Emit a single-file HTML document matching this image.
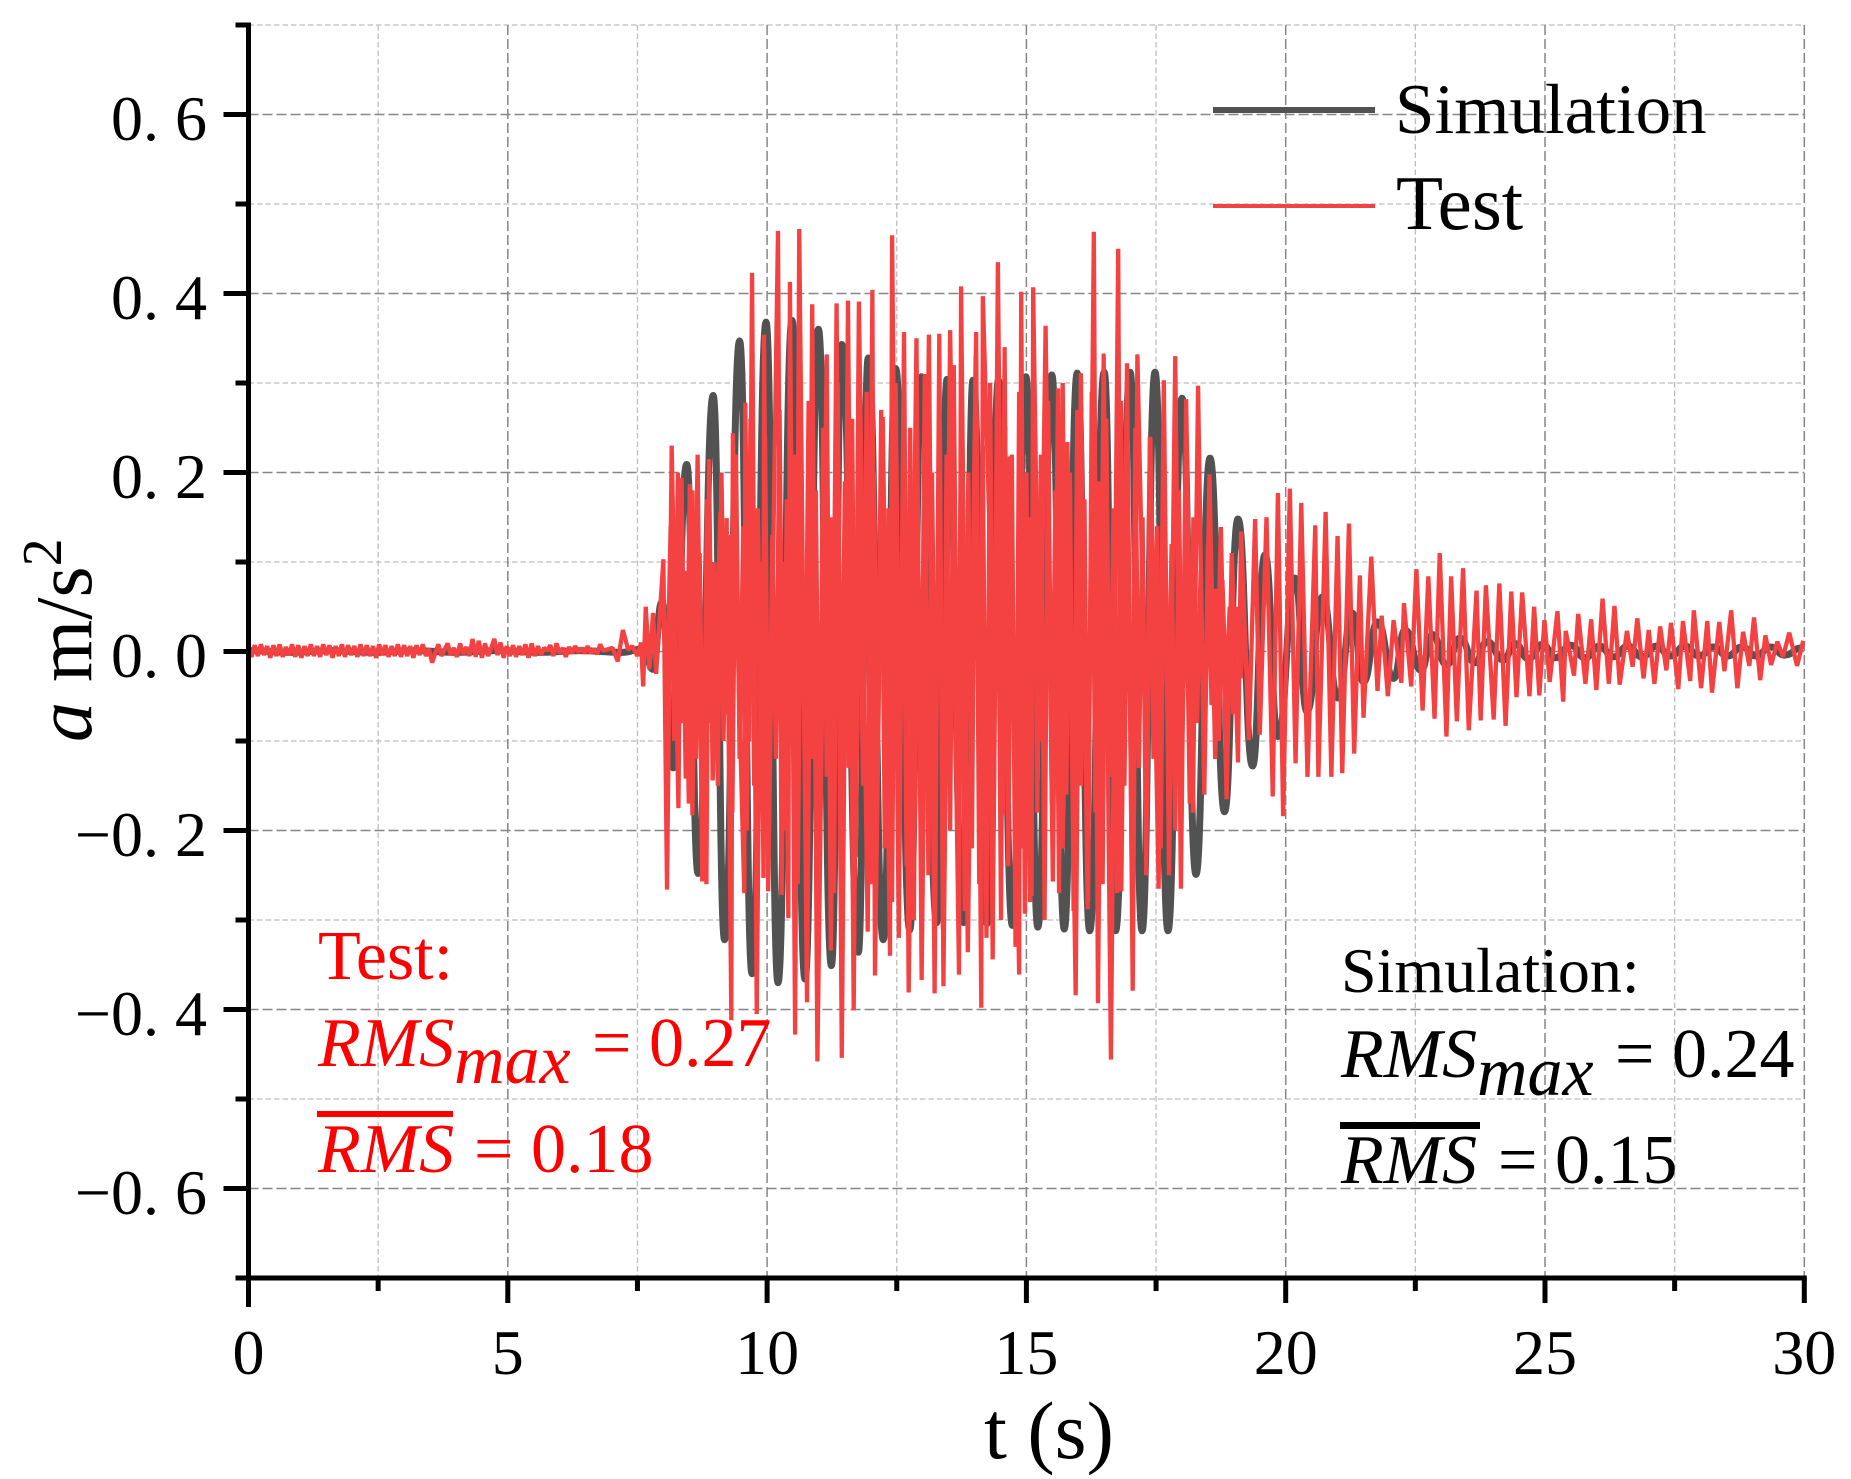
<!DOCTYPE html>
<html lang="en">
<head>
<meta charset="utf-8">
<title>Acceleration time history: Simulation vs Test</title>
<style>
html,body{margin:0;padding:0;background:#fff;width:1851px;height:1479px;overflow:hidden}
svg{display:block}
text{font-family:"Liberation Serif","DejaVu Serif",serif;fill:#000}
</style>
</head>
<body>
<svg id="chart" xmlns="http://www.w3.org/2000/svg" width="1851" height="1479" viewBox="0 0 1851 1479">
  <g id="grid"></g>
  <path id="sim-line" fill="none" stroke="#525252" stroke-width="7" stroke-linejoin="round"></path>
  <path id="test-fine-line" fill="none" stroke="#f44242" stroke-width="4.3" stroke-linejoin="bevel"></path>
  <path id="test-line" fill="none" stroke="#f44242" stroke-width="4.3" stroke-linejoin="bevel"></path>
  <g id="axes"></g>

  <g>
    <rect x="1213" y="107" width="162" height="6" fill="#525252"></rect>
    <text x="1395" y="133" font-size="71">Simulation</text>
    <rect x="1213" y="204" width="162" height="4" fill="#f44242"></rect>
    <text x="1396" y="229" font-size="77">Test</text>
  </g>

  <g font-size="70" style="fill:#f00">
    <text x="318" y="979" style="fill:#f00">Test:</text>
    <text y="1066" style="fill:#f00"><tspan x="318" font-style="italic">RMS</tspan><tspan x="454" y="1083" font-style="italic">max</tspan><tspan x="592" y="1066">= 0.27</tspan></text>
    <rect x="317" y="1111" width="136" height="6" fill="#f00"></rect>
    <text y="1172" style="fill:#f00"><tspan x="318" font-style="italic">RMS</tspan><tspan x="474">= 0.18</tspan></text>
  </g>

  <g font-size="70">
    <text x="1341" y="992" font-size="64">Simulation:</text>
    <text y="1077"><tspan x="1341" font-style="italic">RMS</tspan><tspan x="1477" y="1095" font-style="italic">max</tspan><tspan x="1615" y="1077">= 0.24</tspan></text>
    <rect x="1340" y="1122" width="140" height="7" fill="#000"></rect>
    <text y="1183"><tspan x="1341" font-style="italic">RMS</tspan><tspan x="1498">= 0.15</tspan></text>
  </g>

  <text x="1049" y="1458" font-size="82" text-anchor="middle">t (s)</text>
  <text transform="translate(91 742) rotate(-90)" font-size="80"><tspan font-style="italic">a</tspan><tspan> m/s</tspan><tspan font-size="56" dy="-30">2</tspan></text>
</svg>

<script>
// ---- axis data ----
const xMajorTicks = [0, 5, 10, 15, 20, 25, 30];
const xMinorTicks = [2.5, 7.5, 12.5, 17.5, 22.5, 27.5];
const xTickLabels = ["0", "5", "10", "15", "20", "25", "30"];
const yMajorTicks = [0.6, 0.4, 0.2, 0, -0.2, -0.4, -0.6];
const yMinorTicks = [0.7, 0.5, 0.3, 0.1, -0.1, -0.3, -0.5, -0.7];
const yTickLabels = ["0. 6", "0. 4", "0. 2", "0. 0", "\u22120. 2", "\u22120. 4", "\u22120. 6"];

// ---- simulation series (time in s, acceleration in m/s^2) ----
const simTime = [
  0,0.8,1.6,2.4,3.2,4,4.8,5.6,6.4,7.2,
  7.62,7.8,7.97,8.19,8.45,8.67,8.96,9.18,9.47,9.71,
  9.98,10.21,10.48,10.73,10.99,11.24,11.44,11.76,11.95,12.24,
  12.48,12.75,12.98,13.27,13.47,13.79,13.97,14.24,14.46,14.73,
  14.99,15.22,15.49,15.73,15.98,16.22,16.5,16.72,17.0,17.23,
  17.48,17.73,18.0,18.27,18.54,18.82,19.08,19.36,19.6,19.85,
  20.18,20.41,20.71,21.01,21.28,21.5,21.77,22.08,22.3,22.61,
  22.83,23.1,23.36,23.65,23.88,24.2,24.42,24.68,24.95,25.2,
  25.5,25.77,26.05,26.32,26.6,26.87,27.15,27.42,27.7,27.97,
  28.25,28.52,28.8,29.07,29.35,29.62,29.95
];
const simAccel = [
  0.001,-0.001,0.001,-0.001,0.001,-0.001,0.001,-0.001,0.001,-0.001,
  0.003,-0.02,0.055,-0.13,0.209,-0.248,0.286,-0.322,0.347,-0.36,
  0.368,-0.37,0.37,-0.366,0.36,-0.351,0.343,-0.336,0.328,-0.322,
  0.316,-0.311,0.307,-0.303,0.304,-0.303,0.303,-0.304,0.303,-0.306,
  0.307,-0.308,0.309,-0.31,0.311,-0.312,0.312,-0.312,0.312,-0.312,
  0.312,-0.312,0.283,-0.249,0.216,-0.179,0.148,-0.128,0.108,-0.095,
  0.082,-0.067,0.061,-0.052,0.043,-0.034,0.033,-0.03,0.024,-0.021,
  0.019,-0.015,0.015,-0.0125,0.011,-0.0095,0.009,-0.008,0.008,-0.007,
  0.007,-0.007,0.006,-0.006,0.006,-0.006,0.006,-0.005,0.006,-0.005,
  0.005,-0.005,0.005,-0.005,0.005,-0.004,0.004
];

// ---- test series: quiet lead-in sampled every earlyStep seconds ----
const earlyStep = 0.06;
const earlyTestAccel = [
  0.003,-0.006,0.007,-0.005,0.008,-0.004,0.006,-0.007,0.007,-0.005,
  0.008,-0.006,0.005,-0.004,0.008,-0.006,0.007,-0.007,0.006,-0.005,
  0.008,-0.005,0.006,-0.006,0.008,-0.004,0.007,-0.007,0.006,-0.005,
  0.008,-0.006,0.007,-0.004,0.006,-0.006,0.008,-0.005,0.007,-0.005,
  0.006,-0.007,0.008,-0.004,0.007,-0.006,0.006,-0.005,0.008,-0.006,
  0.007,-0.005,0.006,-0.007,0.007,-0.004,0.008,-0.005,0.003,-0.0125,
  -0.002,0.008,-0.005,0.002,0.009,-0.004,0.004,-0.006,0.009,-0.003,
  0.005,-0.005,0.014,-0.006,0.012,-0.007,0.009,-0.005,0.004,0.014,
  -0.004,0.01,-0.007,0.006,-0.005,0.007,-0.006,0.006,-0.004,0.008,
  -0.007,0.009,-0.005,0.006,-0.004,0.004,0.001,0.007,-0.005,0.009,
  -0.002,0.004,-0.006,0.005,-0.002,0.006,-0.001,0.004,-0.002,0.006,
  -0.002,0.003,-0.003,0.008,0.001
];

// ---- test series: main record, peak by peak ----
const testTime = [
  7.02,7.12,7.22,7.32,7.4,7.5,7.57,7.61,7.66,7.73,
  7.8,7.86,8.0,8.07,8.16,8.29,8.35,8.43,8.51,8.56,
  8.66,8.75,8.79,8.83,8.88,8.95,9.1,9.16,9.22,9.31,
  9.34,9.46,9.56,9.58,9.65,9.71,9.8,9.88,9.93,9.94,
  10.02,10.21,10.28,10.34,10.41,10.44,10.54,10.62,10.77,10.87,
  10.97,11.15,11.23,11.34,11.44,11.56,11.67,11.77,11.94,12.03,
  12.08,12.23,12.37,12.41,12.54,12.64,12.73,12.88,12.98,13.12,
  13.23,13.32,13.4,13.53,13.7,13.74,13.87,14.03,14.13,14.16,
  14.28,14.35,14.45,14.55,14.59,14.64,14.68,14.86,14.9,14.97,
  15.04,15.1,15.13,15.26,15.37,15.51,15.61,15.7,15.79,15.95,
  16.05,16.18,16.3,16.38,16.49,16.63,16.77,16.83,16.94,17.05,
  17.14,17.33,17.39,17.55,17.65,17.75,17.87,17.98,18.08,18.21,
  18.31,18.43,18.53,18.64,18.75,18.86,18.96,19.08,19.14,19.29,
  19.41,19.5,19.63,19.75,19.85,19.95,20.08,20.19,20.3,20.42,
  20.57,20.63,20.77,20.88,21.0,21.09,21.22,21.32,21.43,21.5,
  21.65,21.77,21.85,21.97,22.08,22.23,22.28,22.42,22.52,22.64,
  22.75,22.87,22.97,23.1,23.19,23.3,23.42,23.53,23.68,23.76,
  23.86,24.01,24.12,24.24,24.35,24.45,24.56,24.7,24.79,24.89,
  24.99,25.09,25.24,25.35,25.4,25.56,25.64,25.78,25.89,25.99,
  26.11,26.23,26.34,26.44,26.58,26.69,26.78,26.9,27.0,27.11,
  27.22,27.34,27.43,27.57,27.66,27.8,27.87,28.01,28.13,28.22,
  28.36,28.46,28.59,28.71,28.82,28.94,29.03,29.15,29.25,29.36,
  29.48,29.59,29.71,29.86,29.98
];
const testAccel = [
  0.004,-0.011,0.024,0.002,0.006,-0.005,0.01,-0.039,0.05,-0.02,
  0.043,-0.025,0.103,-0.266,0.23,-0.175,0.194,-0.142,0.187,-0.183,
  0.22,-0.257,-0.05,-0.26,0.215,-0.144,0.156,-0.1,0.149,-0.412,
  0.244,-0.05,-0.27,0.278,-0.1,0.423,-0.405,0.1,-0.253,0.354,
  -0.268,0.47,-0.272,0.1,-0.298,0.413,-0.428,0.472,-0.392,0.388,
  -0.458,0.332,-0.334,0.389,-0.454,0.392,-0.401,0.391,-0.313,0.404,
  -0.362,0.262,-0.34,0.465,-0.32,0.357,-0.381,0.35,-0.367,0.354,
  -0.382,0.355,-0.374,0.359,-0.361,0.408,-0.336,0.357,-0.398,0.397,
  0.154,-0.344,0.435,-0.183,0.252,-0.05,0.218,-0.361,0.402,-0.293,
  0.15,-0.273,0.407,-0.1,0.364,-0.257,0.294,-0.22,0.234,-0.384,
  0.311,-0.288,0.469,-0.393,0.333,-0.456,0.45,-0.268,0.322,-0.379,
  0.332,-0.178,0.239,-0.265,0.303,-0.25,0.33,-0.265,0.282,-0.18,
  0.297,-0.16,0.198,-0.12,0.139,-0.165,0.11,-0.124,0.134,-0.099,
  0.148,-0.093,0.15,-0.162,0.177,-0.184,0.182,-0.125,0.166,-0.14,
  0.141,-0.14,0.156,-0.14,0.129,-0.136,0.143,-0.114,0.085,-0.074,
  0.106,-0.044,0.04,-0.05,0.035,-0.035,0.054,-0.039,0.092,-0.066,
  0.084,-0.075,0.11,-0.095,0.084,-0.078,0.093,-0.088,0.068,-0.077,
  0.074,-0.076,0.076,-0.083,0.067,-0.051,0.066,-0.05,0.05,-0.049,
  0.035,-0.034,0.045,-0.056,0.023,-0.027,0.042,-0.036,0.036,-0.043,
  0.059,-0.036,0.051,-0.037,0.023,-0.017,0.037,-0.03,0.024,-0.036,
  0.028,-0.021,0.032,-0.042,0.034,-0.033,0.046,-0.041,0.034,-0.046,
  0.033,-0.022,0.046,-0.041,0.022,-0.016,0.038,-0.032,0.018,-0.015,
  0.011,-0.006,0.021,-0.016,0.012
];

// ---- test series: fine oscillation filling the strong-motion core ----
const fineStart = 8.0;
const fineStep = 0.07;
const testFineAccel = [
  0.06,-0.05,0.14,-0.1,0.2,-0.08,0.09,-0.17,0.18,-0.12,
  0.11,-0.2,0.17,-0.08,0.1,-0.15,0.2,-0.07,0.13,-0.18,
  0.22,-0.12,0.14,-0.2,0.26,-0.15,0.16,-0.1,0.24,-0.22,
  0.13,-0.12,0.27,-0.2,0.17,-0.1,0.22,-0.26,0.15,-0.14,
  0.28,-0.12,0.18,-0.24,0.25,-0.14,0.15,-0.27,0.3,-0.16,
  0.19,-0.13,0.26,-0.23,0.17,-0.15,0.29,-0.26,0.2,-0.14,
  0.27,-0.22,0.16,-0.28,0.3,-0.15,0.21,-0.24,0.25,-0.3,
  0.18,-0.17,0.31,-0.25,0.2,-0.16,0.27,-0.31,0.22,-0.2,
  0.32,-0.18,0.24,-0.29,0.2,-0.22,0.33,-0.26,0.23,-0.32,
  0.3,-0.2,0.25,-0.3,0.34,-0.24,0.22,-0.33,0.29,-0.22,
  0.2,-0.28,0.31,-0.18,0.22,-0.3,0.28,-0.17,0.18,-0.27,
  0.3,-0.16,0.2,-0.29,0.27,-0.15,0.17,-0.28,0.29,-0.18,
  0.19,-0.26,0.26,-0.14,0.16,-0.27,0.28,-0.15,0.17,-0.24,
  0.25,-0.13,0.15,-0.25,0.24,-0.12,0.14,-0.22,0.2,-0.11,
  0.12,-0.2,0.18,-0.09,0.1,-0.17,0.15,-0.08,0.09,-0.14,
  0.12,-0.06,0.07,-0.1,0.08,-0.05,0.05,-0.07,0.05,-0.03,
  0.03,-0.04
];

// ---- axis functions ----
const xOrigin = 248.5, xPerSecond = 51.86, yOrigin = 651.5, yPerUnit = 895;
function xScale(t) { return xOrigin + xPerSecond * t; }
function yScale(v) { return yOrigin - yPerUnit * v; }

const SVG_NS = "http://www.w3.org/2000/svg";
function makeLine(parent, x1, y1, x2, y2, stroke, width, dash) {
  const l = document.createElementNS(SVG_NS, "line");
  l.setAttribute("x1", x1);
  l.setAttribute("y1", y1);
  l.setAttribute("x2", x2);
  l.setAttribute("y2", y2);
  l.setAttribute("stroke", stroke);
  l.setAttribute("stroke-width", width);
  if (dash) l.setAttribute("stroke-dasharray", dash);
  parent.appendChild(l);
  return l;
}
function makeText(parent, x, y, str, anchor) {
  const t = document.createElementNS(SVG_NS, "text");
  t.setAttribute("x", x);
  t.setAttribute("y", y);
  t.setAttribute("font-size", "64");
  t.setAttribute("text-anchor", anchor);
  t.textContent = str;
  parent.appendChild(t);
  return t;
}

const gridGroup = document.getElementById("grid");
const axesGroup = document.getElementById("axes");
const plotLeft = xScale(0), plotRight = xScale(30), plotTop = yScale(0.7), plotBottom = yScale(-0.7);

// minor grid first, major grid on top
xMinorTicks.forEach(function (t) {
  const g = makeLine(gridGroup, xScale(t), plotTop, xScale(t), plotBottom, "#bdbdbd", 1.3, "5.5 3");
  
  
});
yMinorTicks.forEach(function (v) {
  const g = makeLine(gridGroup, plotLeft, yScale(v), plotRight, yScale(v), "#bdbdbd", 1.3, "5.5 3");
  
  
});
xMajorTicks.forEach(function (t) {
  const g = makeLine(gridGroup, xScale(t), plotTop, xScale(t), plotBottom, "#868686", 1.5, "10 4");
  
  
});
yMajorTicks.forEach(function (v) {
  const g = makeLine(gridGroup, plotLeft, yScale(v), plotRight, yScale(v), "#868686", 1.5, "10 4");
  
  
});

// simulation: smooth oscillation through successive extremes
let simPath = "M" + xScale(simTime[0]).toFixed(2) + " " + yScale(simAccel[0]).toFixed(2);
for (let i = 1; i < simTime.length; i++) {
  const x0 = xScale(simTime[i - 1]), y0 = yScale(simAccel[i - 1]);
  const x1 = xScale(simTime[i]), y1 = yScale(simAccel[i]);
  const cx = (x0 + x1) / 2;
  simPath += "C" + cx.toFixed(2) + " " + y0.toFixed(2) + " " + cx.toFixed(2) + " " + y1.toFixed(2) + " " + x1.toFixed(2) + " " + y1.toFixed(2);
}
document.getElementById("sim-line").setAttribute("d", simPath);

// test: polyline through lead-in samples, then the main record
const testPoints = [];
earlyTestAccel.forEach(function (v, i) {
  testPoints.push(xScale(i * earlyStep).toFixed(2) + " " + yScale(v).toFixed(2));
});
testTime.forEach(function (t, i) {
  testPoints.push(xScale(t).toFixed(2) + " " + yScale(testAccel[i]).toFixed(2));
});
document.getElementById("test-line").setAttribute("d", "M" + testPoints.join("L"));

// test: fine oscillation
const finePoints = [];
testFineAccel.forEach(function (v, i) {
  finePoints.push(xScale(fineStart + i * fineStep).toFixed(2) + " " + yScale(v).toFixed(2));
});
document.getElementById("test-fine-line").setAttribute("d", "M" + finePoints.join("L"));

// axes
const yAxisLine = makeLine(axesGroup, plotLeft, plotTop - 2.5, plotLeft, plotBottom + 29, "#000", 5);


const xAxisLine = makeLine(axesGroup, plotLeft - 12, plotBottom, plotRight + 2.5, plotBottom, "#000", 5);



xMajorTicks.forEach(function (t, i) {
  const m = makeLine(axesGroup, xScale(t), plotBottom, xScale(t), plotBottom + 25, "#000", 5);
  
  
  const lbl = makeText(axesGroup, xScale(t), 1374, xTickLabels[i], "middle");
  
  
});
xMinorTicks.forEach(function (t) {
  const m = makeLine(axesGroup, xScale(t), plotBottom, xScale(t), plotBottom + 13, "#000", 5);
  
  
});
yMajorTicks.forEach(function (v, i) {
  const m = makeLine(axesGroup, plotLeft - 25, yScale(v), plotLeft, yScale(v), "#000", 5);
  
  
  const lbl = makeText(axesGroup, 207, yScale(v) + 25.5, yTickLabels[i], "end");
  
  
});
yMinorTicks.forEach(function (v) {
  const m = makeLine(axesGroup, plotLeft - 13, yScale(v), plotLeft, yScale(v), "#000", 5);
  
  
});
</script>
</body>
</html>
